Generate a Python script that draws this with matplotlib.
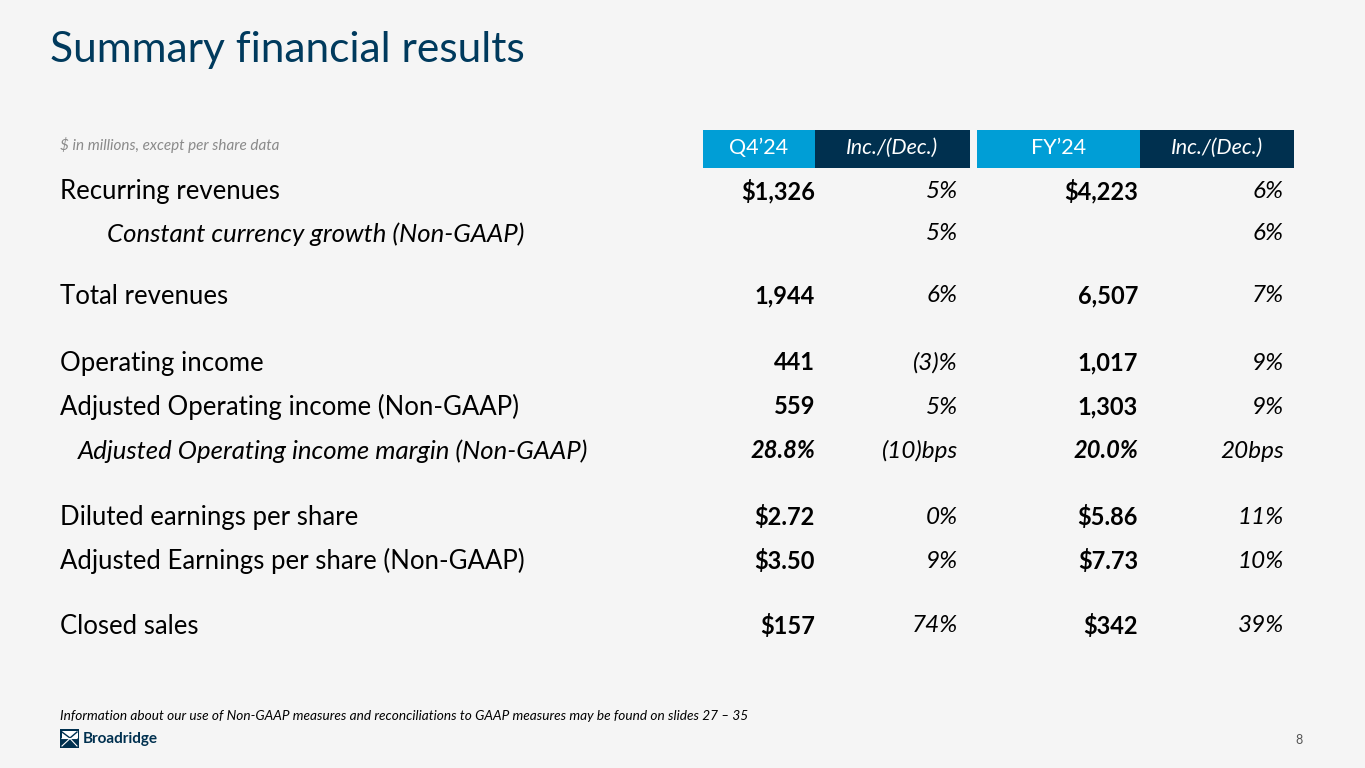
import matplotlib.pyplot as plt
from matplotlib.patches import Rectangle

plt.rcParams['font.family'] = ['Lato', 'DejaVu Sans']

# table data
row_labels = ["Recurring revenues", "Constant currency growth (Non-GAAP)",
              "Total revenues", "Operating income",
              "Adjusted Operating income (Non-GAAP)",
              "Adjusted Operating income margin (Non-GAAP)",
              "Diluted earnings per share",
              "Adjusted Earnings per share (Non-GAAP)", "Closed sales"]
q4_values = ["$1,326", "", "1,944", "441", "559", "28.8%", "$2.72", "$3.50", "$157"]
q4_change = ["5%", "5%", "6%", "(3)%", "5%", "(10)bps", "0%", "9%", "74%"]
fy_values = ["$4,223", "", "6,507", "1,017", "1,303", "20.0%", "$5.86", "$7.73", "$342"]
fy_change = ["6%", "6%", "7%", "9%", "9%", "20bps", "11%", "10%", "39%"]
header_labels = ["Q4\u201924", "Inc./(Dec.)", "FY\u201924", "Inc./(Dec.)"]

# layout (pixels)
row_y = [191, 234, 296, 363, 407, 451, 517, 561, 626]
label_x = [60, 107, 60, 60, 60, 78, 60, 60, 60]
italic_rows = [1, 5]

navy = '#00304f'
light_blue = '#009ed6'
title_color = '#003a5d'
bg = '#f5f5f5'

fig = plt.figure(figsize=(13.65, 7.68), dpi=100, facecolor=bg)
ax = fig.add_axes([0, 0, 1, 1])
ax.set_xlim(0, 1365)
ax.set_ylim(768, 0)
ax.axis('off')

ax.text(50, 50, "Summary financial results", fontsize=30.6, color=title_color,
        va='center', ha='left')
ax.text(60, 145, "$ in millions, except per share data", fontsize=11,
        color='#8a8a8a', style='italic', va='center')

# header boxes
boxes = [(703, 815, light_blue), (815, 970, navy),
         (977, 1140, light_blue), (1140, 1294, navy)]
for (x0, x1, c), lab in zip(boxes, header_labels):
    ax.add_patch(Rectangle((x0, 130), x1 - x0, 38, color=c, lw=0))
    ax.text((x0 + x1) / 2, 148, lab, color='white', fontsize=15.5,
            ha='center', va='center',
            style='italic' if 'Inc' in lab else 'normal')

# rows
for i, lab in enumerate(row_labels):
    y = row_y[i]
    it = 'italic' if i in italic_rows else 'normal'
    ax.text(label_x[i], y, lab, fontsize=18.5, color='black', va='center',
            ha='left', style=it)
    ax.text(815, y, q4_values[i], fontsize=17, fontweight='bold',
            ha='right', va='center', style=it)
    ax.text(958, y, q4_change[i], fontsize=17.5, style='italic',
            ha='right', va='center')
    ax.text(1138, y, fy_values[i], fontsize=17, fontweight='bold',
            ha='right', va='center', style=it)
    ax.text(1284, y, fy_change[i], fontsize=17.5, style='italic',
            ha='right', va='center')

ax.text(60, 716, "Information about our use of Non-GAAP measures and "
        "reconciliations to GAAP measures may be found on slides 27 \u2013 35",
        fontsize=9.85, style='italic', color='black', va='center')

# logo
ax.add_patch(Rectangle((60, 729), 19, 19, color=navy, lw=0))
ax.add_patch(Rectangle((61.5, 730.5), 16, 7, color='white', lw=0))
ax.plot([62, 70, 62], [732, 738, 745], color=navy, lw=1.0)
ax.plot([77, 70, 77], [732, 738, 745], color=navy, lw=1.0)
ax.plot([62, 70, 62], [738.5, 738.5, 746], color='white', lw=0.8)
ax.plot([77, 70, 77], [738.5, 738.5, 746], color='white', lw=0.8)
ax.text(83, 739, "Broadridge", fontsize=11, fontweight='bold', color=navy,
        va='center')
ax.text(1303, 740, "8", fontsize=9, color='#555555', ha='right', va='center')

fig.savefig('out.png', dpi=100, facecolor=bg)
